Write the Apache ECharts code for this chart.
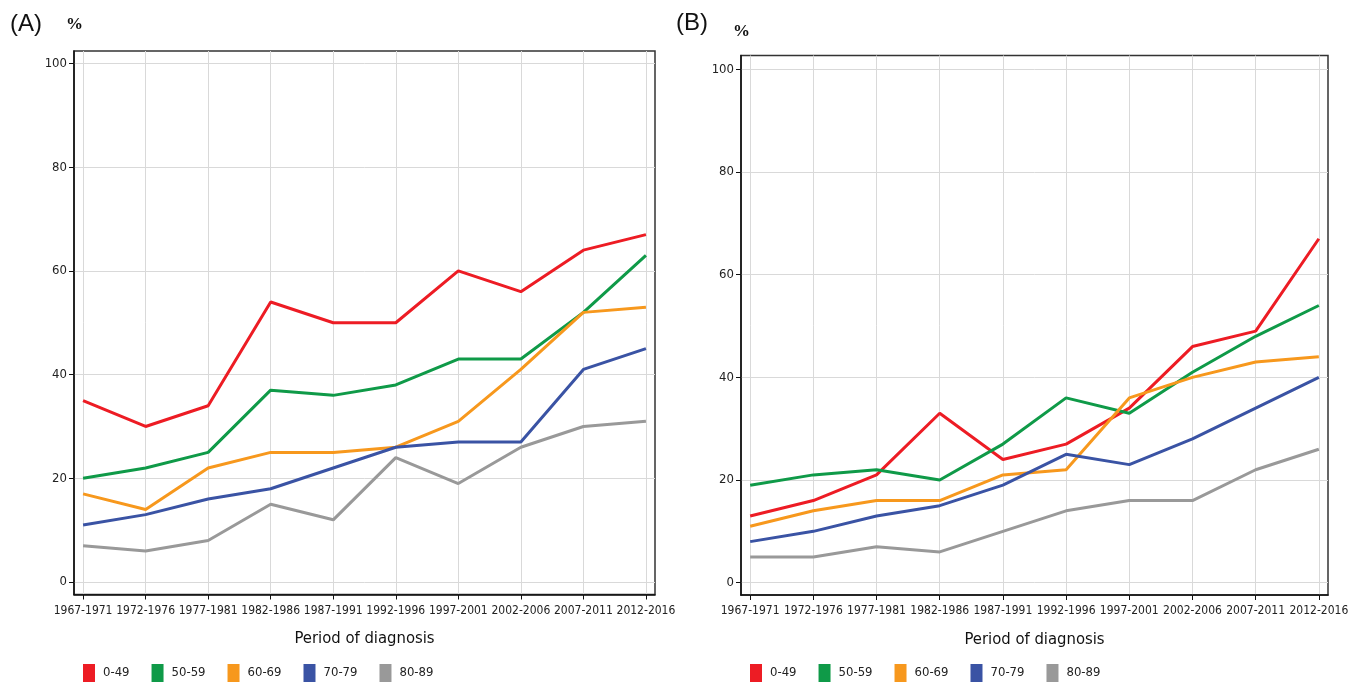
<!DOCTYPE html>
<html>
<head>
<meta charset="utf-8">
<script src="https://cdn.jsdelivr.net/npm/echarts@6/dist/echarts.min.js"></script>
<style>
  html, body { margin: 0; padding: 0; background: #fff; }
  #main { width: 1362px; height: 684px; }
</style>
</head>
<body>
<div id="main"></div>
<script>
var periods = ['1967-1971', '1972-1976', '1977-1981', '1982-1986', '1987-1991',
  '1992-1996', '1997-2001', '2002-2006', '2007-2011', '2012-2016'];
var ageGroups = ['0-49', '50-59', '60-69', '70-79', '80-89'];
var yTicks = [0, 20, 40, 60, 80, 100];

// panel (A)
var a0to49  = [35, 30, 34, 54, 50, 50, 60, 56, 64, 67];
var a50to59 = [20, 22, 25, 37, 36, 38, 43, 43, 52, 63];
var a60to69 = [17, 14, 22, 25, 25, 26, 31, 41, 52, 53];
var a70to79 = [11, 13, 16, 18, 22, 26, 27, 27, 41, 45];
var a80to89 = [7, 6, 8, 15, 12, 24, 19, 26, 30, 31];

// panel (B)
var b0to49  = [13, 16, 21, 33, 24, 27, 34, 46, 49, 67];
var b50to59 = [19, 21, 22, 20, 27, 36, 33, 41, 48, 54];
var b60to69 = [11, 14, 16, 16, 21, 22, 36, 40, 43, 44];
var b70to79 = [8, 10, 13, 15, 19, 25, 23, 28, 34, 40];
var b80to89 = [5, 5, 7, 6, 10, 14, 16, 16, 22, 26];

var colors = ['#ed1c24', '#0f9a48', '#f7981d', '#3a53a4', '#999999'];
var narrow = "'DejaVu Sans Condensed', 'Liberation Sans Narrow', sans-serif";
var xIdx = periods.map(function (p, i) { return i; });

var chart = echarts.init(document.getElementById('main'));

function makeX(gridIndex) {
  return {
    type: 'value',
    gridIndex: gridIndex,
    min: -0.145,
    max: 9.145,
    name: 'Period of diagnosis',
    nameLocation: 'middle',
    nameGap: 36,
    nameTextStyle: { fontFamily: narrow, fontSize: 16.5, color: '#111' },
    axisLine: { onZero: false, lineStyle: { color: '#111', width: 1.5 } },
    axisTick: { show: true, customValues: xIdx, length: 5, lineStyle: { color: '#111' } },
    axisLabel: {
      customValues: xIdx,
      showMinLabel: true,
      showMaxLabel: true,
      hideOverlap: false,
      formatter: function (v) { return periods[v]; },
      fontFamily: narrow, fontSize: 12, color: '#222', margin: 10
    },
    splitLine: { show: true, lineStyle: { color: '#d9d9d9', width: 1 } }
  };
}

function makeY(gridIndex, max) {
  return {
    type: 'value',
    gridIndex: gridIndex,
    min: -2.4,
    max: max,
    axisLine: { show: true, onZero: false, lineStyle: { color: '#111', width: 1.5 } },
    axisTick: { show: true, customValues: yTicks, length: 5, lineStyle: { color: '#111' } },
    axisLabel: {
      customValues: yTicks,
      showMinLabel: true,
      showMaxLabel: true,
      fontFamily: narrow, fontSize: 13, color: '#222', margin: 7
    },
    splitLine: { show: true, lineStyle: { color: '#d9d9d9', width: 1 } }
  };
}

function makeSeries(values, k, gridIndex) {
  return {
    name: ageGroups[k],
    type: 'line',
    xAxisIndex: gridIndex,
    yAxisIndex: gridIndex,
    data: values.map(function (v, i) { return [i, v]; }),
    symbol: 'none',
    lineStyle: { width: 3, color: colors[k] },
    itemStyle: { color: colors[k] },
    animation: false
  };
}

function makeLegend(left) {
  return {
    data: ageGroups,
    left: left,
    top: 664,
    padding: 0,
    icon: 'rect',
    itemWidth: 12,
    itemHeight: 18,
    itemGap: 22,
    selectedMode: false,
    textStyle: { fontFamily: narrow, fontSize: 13, color: '#222', padding: [0, 0, 0, 3] }
  };
}

var seriesA = [a0to49, a50to59, a60to69, a70to79, a80to89];
var seriesB = [b0to49, b50to59, b60to69, b70to79, b80to89];

var option = {
  backgroundColor: '#fff',
  color: colors,
  grid: [
    { left: 74, top: 51, width: 581, height: 543.5, show: true, borderColor: '#333', borderWidth: 1.5 },
    { left: 741, top: 55.5, width: 587, height: 539.5, show: true, borderColor: '#333', borderWidth: 1.5 }
  ],
  xAxis: [makeX(0), makeX(1)],
  yAxis: [makeY(0, 102.4), makeY(1, 102.7)],
  legend: [makeLegend(83), makeLegend(750)],
  graphic: [
    { type: 'text', left: 10, top: 12, style: { text: '(A)', font: '24px "Liberation Sans", Arial, sans-serif', fill: '#111' } },
    { type: 'text', left: 66, top: 16, style: { text: '%', font: 'bold 17px "Liberation Serif", serif', fill: '#111' } },
    { type: 'text', left: 676, top: 11, style: { text: '(B)', font: '24px "Liberation Sans", Arial, sans-serif', fill: '#111' } },
    { type: 'text', left: 733, top: 23, style: { text: '%', font: 'bold 17px "Liberation Serif", serif', fill: '#111' } }
  ],
  series: seriesA.map(function (s, k) { return makeSeries(s, k, 0); })
    .concat(seriesB.map(function (s, k) { return makeSeries(s, k, 1); }))
};

chart.setOption(option);
</script>
</body>
</html>
